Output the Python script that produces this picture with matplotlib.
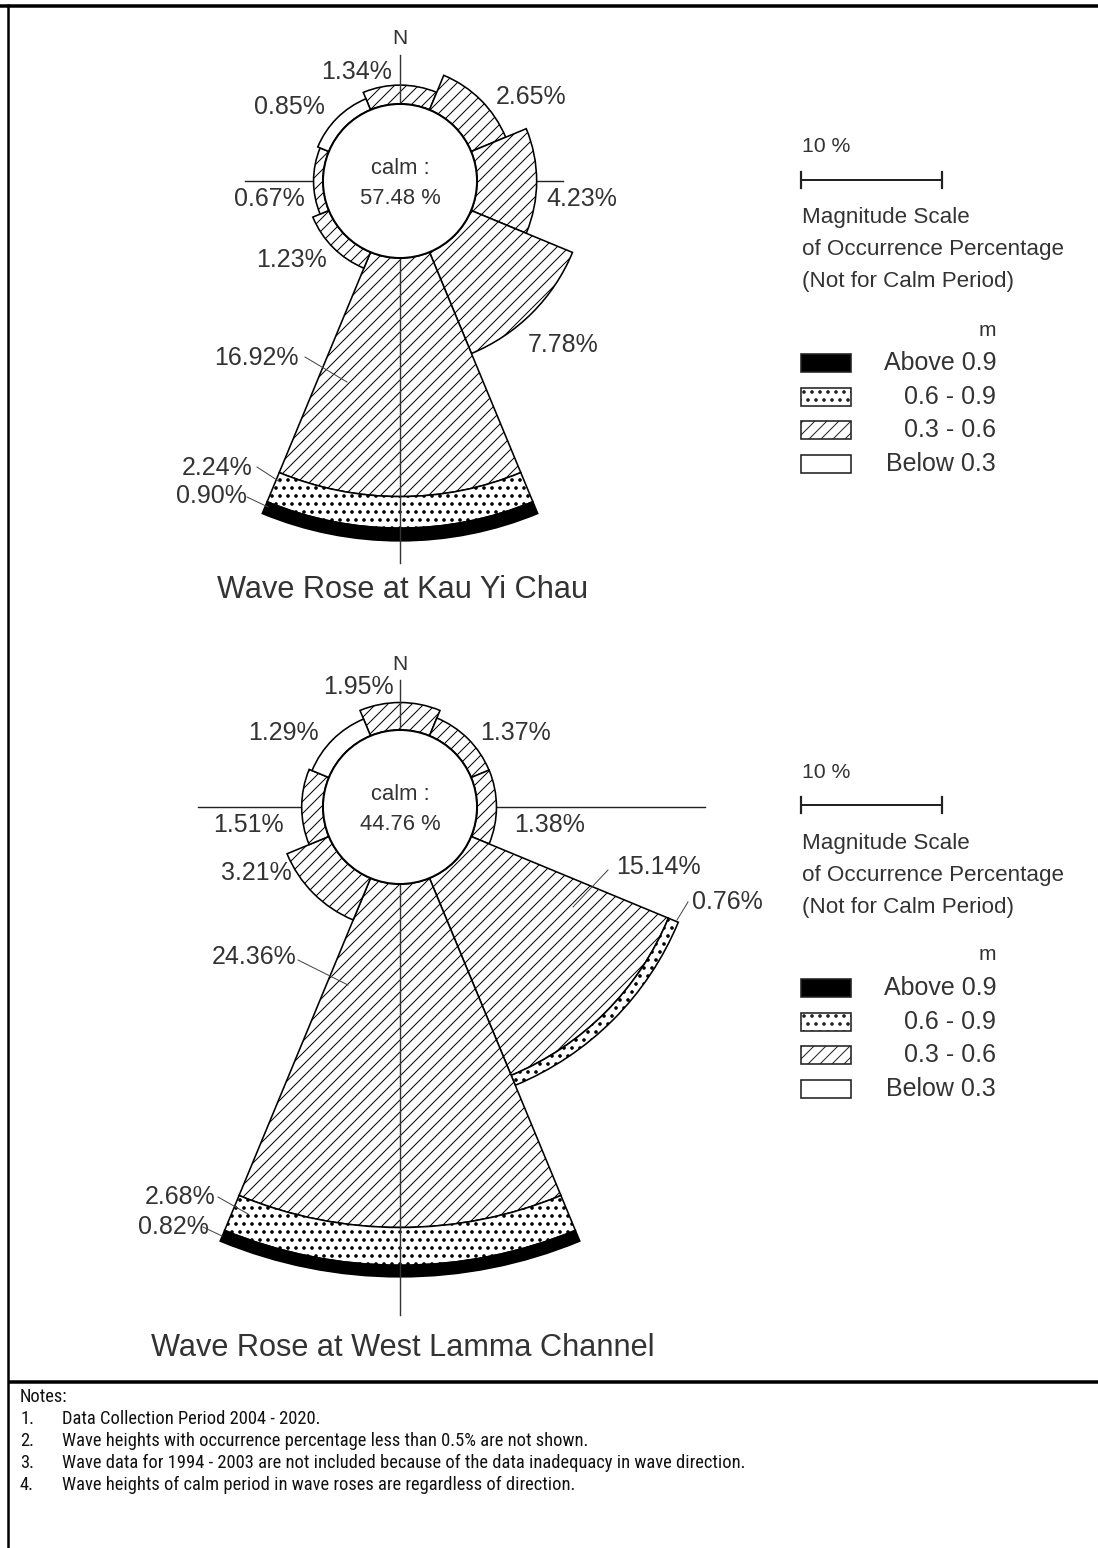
import matplotlib
matplotlib.use("Agg")
import matplotlib.pyplot as plt
from matplotlib.patches import Wedge, Circle, Rectangle
from matplotlib import font_manager

# ---------------- data ----------------
directions = ['N', 'NE', 'E', 'SE', 'S', 'SW', 'W', 'NW']
height_classes = ['Below 0.3', '0.3 - 0.6', '0.6 - 0.9', 'Above 0.9']

kyc_title = 'Wave Rose at Kau Yi Chau'
kyc_calm = 57.48
kyc_below_03 = [0, 0, 0, 0, 0, 0, 0, 0.85]
kyc_03_06 = [1.34, 2.65, 4.23, 7.78, 16.92, 1.23, 0.67, 0]
kyc_06_09 = [0, 0, 0, 0, 2.24, 0, 0, 0]
kyc_above_09 = [0, 0, 0, 0, 0.90, 0, 0, 0]

wlc_title = 'Wave Rose at West Lamma Channel'
wlc_calm = 44.76
wlc_below_03 = [0, 0, 0, 0, 0, 0, 0, 1.29]
wlc_03_06 = [1.95, 1.37, 1.38, 15.14, 24.36, 3.21, 1.51, 0]
wlc_06_09 = [0, 0, 0, 0.76, 2.68, 0, 0, 0]
wlc_above_09 = [0, 0, 0, 0, 0.82, 0, 0, 0]

scale_pct = 10
notes = [
    'Data Collection Period 2004 - 2020.',
    'Wave heights with occurrence percentage less than 0.5% are not shown.',
    'Wave data for 1994 - 2003 are not included because of the data inadequacy in wave direction.',
    'Wave heights of calm period in wave roses are regardless of direction.',
]

# ---------------- layout / style ----------------
W, H, DPI = 1098, 1548, 144
PX = 72.0 / DPI          # points per pixel
SCALE = 14.1             # px per percent
R_CALM = 77

def fs(px_em):
    return px_em * PX

ttf = font_manager.fontManager.ttflist
avail = {f.name for f in ttf}
SANS = 'Liberation Sans' if 'Liberation Sans' in avail else 'DejaVu Sans'
NARROW = None
for cand in ['Liberation Sans Narrow', 'Arial Narrow', 'Roboto Condensed', 'Open Sans Condensed',
             'Noto Sans Condensed', 'DejaVu Sans Condensed']:
    if cand in avail:
        NARROW = cand
        break
if NARROW is None:
    for f in ttf:
        if ('Narrow' in f.name or 'Condensed' in f.name) and f.weight in (400, 'normal', 'regular') \
                and f.style == 'normal':
            NARROW = f.name
            break
if NARROW is None:
    NARROW = SANS
    narrow_em = 16.2
else:
    narrow_em = 18.5

plt.rcParams['font.family'] = [SANS, 'DejaVu Sans']
plt.rcParams['hatch.linewidth'] = 1.0 * PX

TXT = '#333333'
styles = [
    dict(facecolor='white', hatch=None, hlw=1.0),
    dict(facecolor='white', hatch='////', hlw=1.0),
    dict(facecolor='white', hatch='...', hlw=2.0),
    dict(facecolor='black', hatch=None, hlw=1.0),
]

fig = plt.figure(figsize=(W / DPI, H / DPI), dpi=DPI)
ax = fig.add_axes([0, 0, 1, 1])
ax.set_xlim(0, W)
ax.set_ylim(H, 0)
ax.axis('off')


def styled(patch_cls, st, *args, **kw):
    with plt.rc_context({'hatch.linewidth': st['hlw'] * PX}):
        p = patch_cls(*args, facecolor=st['facecolor'], hatch=st['hatch'], **kw)
    if hasattr(p, 'set_hatch_linewidth'):
        p.set_hatch_linewidth(st['hlw'] * PX)
    return p


def draw_rose(cx, cy, classes, calm, title, labels, leaders, vext, hext, title_y):
    # compass lines
    ax.plot([cx + hext[0], cx + hext[1]], [cy, cy], color='#222222', lw=1.4 * PX, zorder=1)
    ax.plot([cx, cx], [cy + vext[0], cy + vext[1]], color='#333333', lw=1.4 * PX, zorder=3)
    ax.text(cx, cy + vext[0] - 16, 'N', ha='center', va='center', fontsize=fs(21), color=TXT,
            zorder=5)
    for i, d in enumerate(directions):
        bearing = 45 * i
        t1, t2 = bearing - 22.5 - 90, bearing + 22.5 - 90
        r0 = R_CALM
        for k, vals in enumerate(classes):
            v = vals[i]
            if v <= 0:
                continue
            w = v * SCALE
            ax.add_patch(styled(Wedge, styles[k], (cx, cy), r0 + w, t1, t2, width=w,
                                edgecolor='black', lw=1.6 * PX, zorder=2))
            r0 += w
    ax.add_patch(Circle((cx, cy), R_CALM, facecolor='white', edgecolor='black',
                        lw=2.0 * PX, zorder=4))
    ax.text(cx, cy - 13, 'calm :', ha='center', va='center', fontsize=fs(22), color=TXT, zorder=5)
    ax.text(cx, cy + 18, f'{calm:.2f} %', ha='center', va='center', fontsize=fs(22),
            color=TXT, zorder=5)
    for (k, i), (x, y) in labels.items():
        ax.text(x, y, f'{classes[k][i]:.2f}%', ha='center', va='center', fontsize=fs(25),
                color=TXT, zorder=5)
    for (x0, y0, x1, y1) in leaders:
        ax.plot([x0, x1], [y0, y1], color='#444444', lw=1.0 * PX, zorder=5)
    ax.text(cx + 3, title_y, title, ha='center', va='center', fontsize=fs(30.7), color=TXT,
            zorder=5)


def draw_legend(x0, y0):
    ax.text(x0 + 1, y0 - 33, f'{scale_pct} %', ha='left', va='center', fontsize=fs(21.3),
            color=TXT)
    x1 = x0 + scale_pct * SCALE
    ax.plot([x0, x1], [y0, y0], color='#222222', lw=2.0 * PX)
    for xx in (x0, x1):
        ax.plot([xx, xx], [y0 - 8, y0 + 8], color='#222222', lw=2.2 * PX)
    for j, s in enumerate(['Magnitude Scale', 'of Occurrence Percentage', '(Not for Calm Period)']):
        ax.text(x0 + 1, y0 + 38 + 32 * j, s, ha='left', va='center', fontsize=fs(22.4),
                color=TXT)
    xr = x0 + 195
    ax.text(xr, y0 + 150, 'm', ha='right', va='center', fontsize=fs(21), color=TXT)
    order = [3, 2, 1, 0]
    for j, k in enumerate(order):
        yc = y0 + 183 + 33.7 * j
        ax.add_patch(styled(Rectangle, styles[k], (x0, yc - 9), 50, 18,
                            edgecolor='#222222', lw=1.6 * PX))
        ax.text(xr, yc, height_classes[k], ha='right', va='center', fontsize=fs(25), color=TXT)


# Kau Yi Chau rose
kyc_classes = [kyc_below_03, kyc_03_06, kyc_06_09, kyc_above_09]
kyc_labels = {
    (1, 0): (357, 72), (1, 1): (531, 97), (1, 2): (582, 199), (1, 3): (563, 345),
    (1, 4): (256, 358), (2, 4): (217, 468), (3, 4): (211, 496),
    (1, 5): (291, 260), (1, 6): (269, 199), (0, 7): (289, 107),
}
kyc_leaders = [(305, 357, 347, 382), (257, 467, 280, 482), (247, 497, 268, 507)]
draw_rose(400, 181, kyc_classes, kyc_calm, kyc_title, kyc_labels, kyc_leaders,
          (-126, 382), (-155, 163), 590)
draw_legend(801, 180)

# West Lamma Channel rose
wlc_classes = [wlc_below_03, wlc_03_06, wlc_06_09, wlc_above_09]
wlc_labels = {
    (1, 0): (358, 687), (1, 1): (515, 733), (1, 2): (550, 825), (1, 3): (658, 867),
    (2, 3): (727, 902), (1, 4): (254, 957), (2, 4): (180, 1197), (3, 4): (173, 1227),
    (1, 5): (256, 873), (1, 6): (248, 825), (0, 7): (283, 733),
}
wlc_leaders = [(608, 870, 573, 907), (688, 902, 677, 920), (298, 960, 348, 985),
               (218, 1197, 248, 1214), (203, 1227, 222, 1236)]
draw_rose(400, 807, wlc_classes, wlc_calm, wlc_title, wlc_labels, wlc_leaders,
          (-127, 508), (-202, 305), 1348)
draw_legend(801, 805)

# frame
ax.plot([0, W], [5.5, 5.5], color='black', lw=3.5 * PX, solid_capstyle='butt')
ax.plot([8, 8], [4, H], color='black', lw=2.5 * PX, solid_capstyle='butt')
ax.plot([8, W], [1382, 1382], color='black', lw=3.5 * PX, solid_capstyle='butt')

# notes
ax.text(20, 1397, 'Notes:', ha='left', va='center', fontsize=fs(narrow_em), family=NARROW,
        color='#111111')
for j, n in enumerate(notes):
    y = 1419 + 22 * j
    ax.text(20, y, f'{j + 1}.', ha='left', va='center', fontsize=fs(narrow_em), family=NARROW,
            color='#111111')
    ax.text(62, y, n, ha='left', va='center', fontsize=fs(narrow_em), family=NARROW,
            color='#111111')

fig.savefig('out.png', dpi=DPI, facecolor='white')
